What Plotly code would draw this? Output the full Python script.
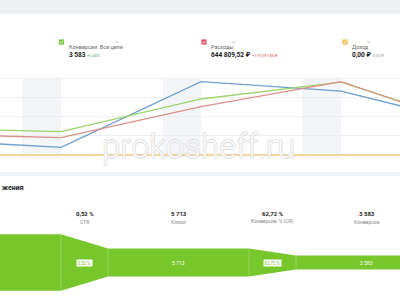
import plotly.graph_objects as go

# ---------------- data ----------------
period_idx = [0, 1, 2, 3, 4]
conversions_line = [1.41, 1.21, 2.91, 3.79, 1.42]
spend_line = [1.10, 0.90, 2.51, 3.81, 1.34]
clicks_line = [0.79, 0.40, 3.81, 3.32, 1.51]
income_line = [0, 0, 0, 0, 0]

legend_names = ["Конверсии: Все цели", "Расходы", "Доход"]
legend_values = ["3 583", "644 809,52 ₽", "0,00 ₽"]
legend_deltas = ["+2 400", "+175 097,85 ₽", "0,00 ₽"]

funnel_stages = ["Показы", "Клики", "Конверсии"]
funnel_values = [1098654, 5713, 3583]
rate_names = ["CTR", "Конверсия, % (CR)"]
rate_values = [0.52, 62.72]
section_title = "жения"

# ---------------- helpers ----------------
W, H = 400, 300
def X(px):
    return px / W
def Y(py):
    return 1 - py / H
def fmt_int(v):
    return f"{v:,}".replace(",", " ")
def fmt_pct(v):
    return f"{v:.2f}".replace(".", ",") + " %"

GREEN = "#76c62c"
FONT = "Roboto, Arial, sans-serif"

fig = go.Figure()

# ---------------- line chart ----------------
line_cfg = [
    (clicks_line, "#6e9fd3", "Клики"),
    (conversions_line, "#9bd56c", legend_names[0]),
    (spend_line, "#dc9088", legend_names[1]),
    (income_line, "#f1d699", legend_names[2]),
]
for vals, col, nm in line_cfg:
    fig.add_trace(go.Scatter(x=period_idx, y=vals, mode="lines", name=nm,
                             line=dict(color=col, width=1.3 if nm != legend_names[2] else 1.8),
                             hoverinfo="skip", xaxis="x", yaxis="y", showlegend=False))

# shaded bands ending at each interior period
for i in period_idx[1:4]:
    fig.add_shape(type="rect", xref="x", yref="y", x0=i - 0.279, x1=i, y0=-0.12, y1=4,
                  fillcolor="#f3f5f8", line_width=0, layer="below")

# ---------------- funnel ----------------
hs = [0.5 ** k for k in range(len(funnel_stages))]
bw = 0.375
top_x, top_y = [], []
for k, h in enumerate(hs):
    top_x += [k - bw, k + bw]
    top_y += [h, h]
top_x = [-1] + top_x + [len(hs) + 0.5]
top_y = [hs[0]] + top_y + [hs[-1]]
poly_x = top_x + top_x[::-1]
poly_y = top_y + [-v for v in top_y[::-1]]
fig.add_trace(go.Scatter(x=poly_x, y=poly_y, fill="toself", fillcolor=GREEN, mode="lines",
                         line=dict(width=0, color=GREEN), hoverinfo="skip",
                         xaxis="x2", yaxis="y2", showlegend=False))
for k in range(len(hs) - 1):
    for xx, hh in ((k + bw, hs[k]), (k + 1 - bw, hs[k + 1])):
        fig.add_shape(type="line", xref="x2", yref="y2", x0=xx, x1=xx, y0=-hh, y1=hh,
                      line=dict(color="rgba(255,255,255,0.25)", width=1))

annotations = []
for k, (nm, v) in enumerate(zip(funnel_stages, funnel_values)):
    annotations.append(dict(x=k, y=Y(219), xref="x2", yref="paper", text=fmt_int(v),
                            showarrow=False, font=dict(size=6, color="#222", family=FONT, weight="bold")))
    annotations.append(dict(x=k, y=Y(226.5), xref="x2", yref="paper", text=nm,
                            showarrow=False, font=dict(size=5, color="#888", family=FONT)))
    annotations.append(dict(x=k, y=0, xref="x2", yref="y2", text=fmt_int(v), showarrow=False,
                            font=dict(size=5, color="white", family=FONT)))
for k, (nm, v) in enumerate(zip(rate_names, rate_values)):
    annotations.append(dict(x=k + 0.5, y=Y(219), xref="x2", yref="paper", text=fmt_pct(v),
                            showarrow=False, font=dict(size=6, color="#222", family=FONT, weight="bold")))
    annotations.append(dict(x=k + 0.5, y=Y(226.5), xref="x2", yref="paper", text=nm,
                            showarrow=False, font=dict(size=5, color="#888", family=FONT)))
    annotations.append(dict(x=k + 0.5, y=0, xref="x2", yref="y2", text=fmt_pct(v), showarrow=False,
                            bgcolor="white", borderpad=0.5,
                            font=dict(size=4.5, color=GREEN, family=FONT)))

annotations.append(dict(x=0, y=Y(188), xref="paper", yref="paper", xanchor="left",
                        text=section_title, showarrow=False,
                        font=dict(size=7, color="#222", family=FONT, weight="bold")))

# ---------------- legend cards ----------------
legend_colors = ["#79c642", "#e0566a", "#f4c05a"]
delta_colors = ["#5fae6b", "#d9534f", "#999999"]
legend_x = [61.5, 204, 345]
shapes_extra = []
for nm, val, dlt, col, dcol, lx in zip(legend_names, legend_values, legend_deltas,
                                         legend_colors, delta_colors, legend_x):
    shapes_extra.append(dict(type="rect", xref="paper", yref="paper", x0=X(lx - 2.6), x1=X(lx + 2.6),
                             y0=Y(44.6), y1=Y(39.4), fillcolor=col, line_width=0))
    shapes_extra.append(dict(type="path", xref="paper", yref="paper",
                             path=f"M {X(lx-1.4)} {Y(42)} L {X(lx-0.3)} {Y(43.2)} L {X(lx+1.5)} {Y(40.8)}",
                             line=dict(color="white", width=0.8)))
    annotations.append(dict(x=X(lx + 5), y=Y(42), xref="paper", yref="paper", xanchor="left",
                            text=nm, showarrow=False, font=dict(size=5.5, color="#666", family=FONT)))
    annotations.append(dict(x=X(lx + 5), y=Y(49.3), xref="paper", yref="paper", xanchor="left",
                            text=f"<b>{val}</b> <span style='font-size:4px;color:{dcol}'>{dlt}</span>",
                            showarrow=False, font=dict(size=6.5, color="#222", family=FONT)))

chev_x = [117, 234, 369]
for cx in chev_x:
    shapes_extra.append(dict(type="path", xref="paper", yref="paper",
                             path=f"M {X(cx-1.5)} {Y(41.3)} L {X(cx)} {Y(42.8)} L {X(cx+1.5)} {Y(41.3)}",
                             line=dict(color="#999", width=0.7)))

# watermark
annotations.append(dict(x=X(198), y=Y(146), xref="paper", yref="paper", text="prokosheff.ru",
                        showarrow=False,
                        font=dict(size=33, color="rgba(255,255,255,0.85)", family=FONT, weight=300,
                                  shadow="0.8px 0 0 #dadada, -0.8px 0 0 #dadada, 0 0.8px 0 #dadada, 0 -0.8px 0 #dadada")))

bg_shapes = [
    dict(type="rect", xref="paper", yref="paper", x0=0, x1=1, y0=Y(14), y1=1,
         fillcolor="#eef1f4", line_width=0, layer="below"),
    dict(type="rect", xref="paper", yref="paper", x0=0, x1=1, y0=Y(176), y1=Y(172),
         fillcolor="#eef1f4", line_width=0, layer="below"),
]

fig.update_layout(
    width=W, height=H, margin=dict(l=0, r=0, t=0, b=0),
    paper_bgcolor="white", plot_bgcolor="rgba(0,0,0,0)",
    showlegend=False,
    xaxis=dict(domain=[0, 1], range=[0.564, 3.421], showgrid=False, zeroline=False,
               showticklabels=False, fixedrange=True),
    yaxis=dict(domain=[Y(172), Y(75)], range=[-0.883, 4.156], tickvals=[0, 1, 2, 3, 4],
               gridcolor="#eceef1", gridwidth=1, zeroline=False, showticklabels=False),
    xaxis2=dict(domain=[0, 1], range=[0.0505, 2.178], anchor="y2", visible=False),
    yaxis2=dict(domain=[0, Y(225)], range=[-1.33, 1.33], anchor="x2", visible=False),
    shapes=list(fig.layout.shapes) + bg_shapes + shapes_extra,
    annotations=annotations,
)

fig.write_html("out.html")
